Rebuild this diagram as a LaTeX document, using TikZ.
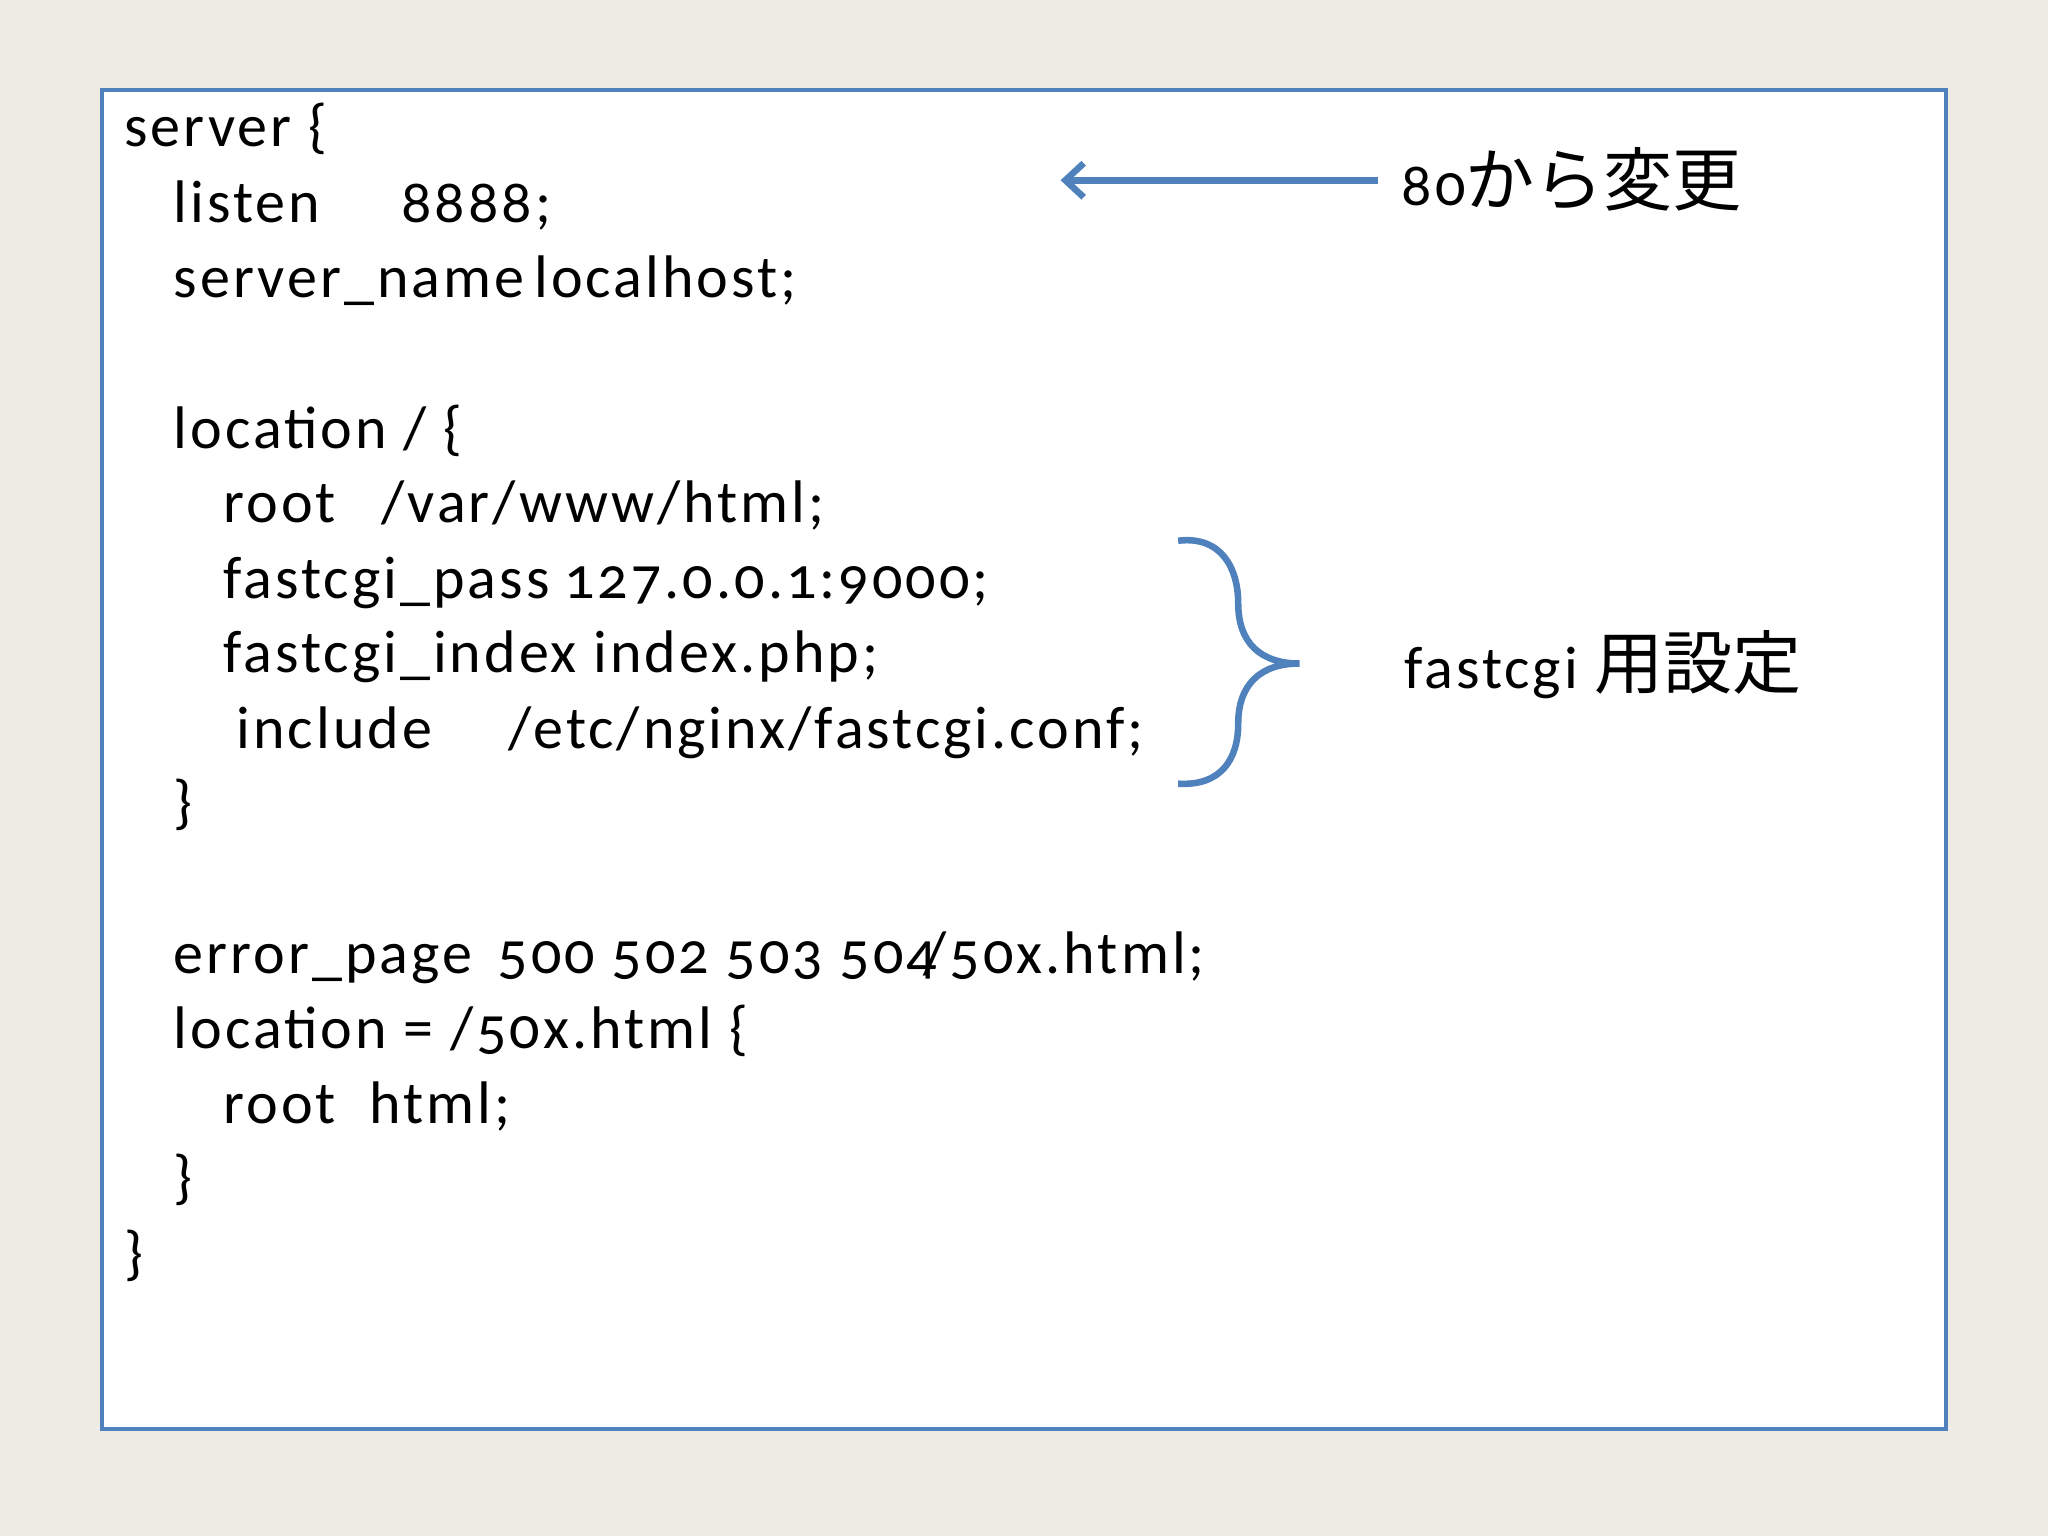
\documentclass[tikz,border=0pt]{standalone}
\usetikzlibrary{arrows.meta}
\usepackage{fontspec}
\setmainfont[Numbers=OldStyle,LetterSpace=5]{Carlito}
\newfontfamily\cjk[Scale=1.15]{Noto Sans CJK JP}
\definecolor{bg}{HTML}{EEEBE4}
\definecolor{bl}{HTML}{4F81BD}
\begin{document}
\begin{tikzpicture}[x=1pt,y=-1pt,
  t/.style={anchor=base west,inner sep=0pt,font=\fontsize{46}{50}\selectfont}]
\fill[bg] (0,0) rectangle (1568,1176);
\useasboundingbox (0,0) rectangle (1568,1176);
\draw[bl,line width=3pt,fill=white] (78,69) rectangle (1490,1094);
\node[t] (l1) at (95,112) {server \{};
\node[t] (l2) at (133,170) {listen};
\node[t] (l2b) at (307,170) {8888;};
\node[t] (l3) at (133,228) {server\_name};
\node[t] (l3b) at (409,228) {localhost;};
\node[t] (l4) at (133,343) {location / \{};
\node[t] (l5) at (171,400) {root};
\node[t] (l5b) at (292,400) {/var/www/html;};
\node[t] (l6) at (171,458) {fastcgi\_pass};
\node[t] (l6b) at (432,458) {127.0.0.1:9000;};
\node[t] (l7) at (171,515) {fastcgi\_index index.php;};
\node[t] (l8) at (181,573) {include};
\node[t] (l8b) at (389,573) {/etc/nginx/fastcgi.conf;};
\node[t] (l9) at (133,630) {\}};
\node[t] (l10) at (133,745) {error\_page};
\node[t] (l10b) at (381,745) {500 502 503 504};
\node[t] (l10c) at (707,745) {/50x.html;};
\node[t] (l11) at (133,803) {location = /50x.html \{};
\node[t] (l12) at (171,860) {root};
\node[t] (l12b) at (283,860) {html;};
\node[t] (l13) at (133,917) {\}};
\node[t] (l14) at (95,975) {\}};
\node[t] (c1) at (1073,157) {80{\cjk から変更}};
\node[t] (c2) at (1075,527) {fastcgi {\cjk 用設定}};
\coordinate (a1) at (1055,138);
\coordinate (a2) at (812,138);
\draw[bl,line width=5pt,-{Straight Barb[length=14pt,width=26pt]}] (a1) -- (a2);
\draw[bl,line width=5pt] (902,414) .. controls (935,410) and (948,435) .. (948,462)
  .. controls (948,492) and (965,508) .. (995,508)
  .. controls (965,508) and (948,524) .. (948,554)
  .. controls (948,581) and (935,602) .. (902,600);
\end{tikzpicture}
\end{document}
